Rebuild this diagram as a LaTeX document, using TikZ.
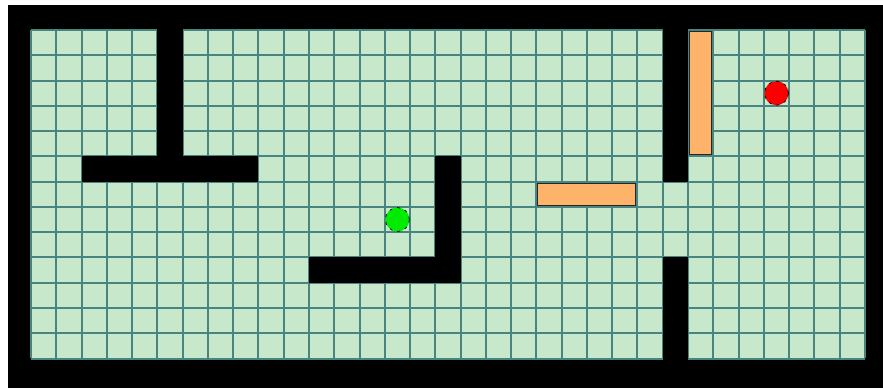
\documentclass[tikz,border=0pt]{standalone}
\definecolor{gridfill}{RGB}{199,232,203}
\definecolor{gridline}{RGB}{72,132,128}
\definecolor{boxorange}{RGB}{253,180,106}
\definecolor{startgreen}{RGB}{0,235,0}
\definecolor{goalred}{RGB}{250,0,0}
\newcommand{\cs}{25.27}
\newcommand{\wallbox}[4]{\fill[black] ({31+#1*\cs},{30+#2*\cs}) rectangle ({31+#3*\cs},{30+#4*\cs});}
\newcommand{\obstacle}[4]{\draw[obstaclebox] ({31+#1*\cs+1.5},{30+#2*\cs+1.5}) rectangle ({31+#3*\cs-1.5},{30+#4*\cs-1.5});}
\tikzset{
  gridstroke/.style={draw=gridline, line width=2pt},
  obstaclebox/.style={fill=boxorange, draw=black!85, line width=1pt},
  agent/.style={circle, inner sep=0pt, minimum size=24pt, draw=black, line width=0.7pt, dash pattern=on 3pt off 5pt}
}
\begin{document}
\begin{tikzpicture}[x=1pt,y=-1pt]
\useasboundingbox (0,0) rectangle (883,388);
\fill[white] (0,0) rectangle (883,388);
\fill[black] (8,5) rectangle (883,388);
\fill[gridfill] (31,30) rectangle (865,358);
\foreach \i in {0,...,33} \draw[gridstroke] ({31+\i*\cs},30) -- ({31+\i*\cs},358);
\foreach \j in {0,...,13} \draw[gridstroke] (31,{30+\j*\cs}) -- (865,{30+\j*\cs});
% walls
\wallbox{5}{-0.5}{6}{5}
\wallbox{2}{5}{9}{6}
\wallbox{16}{5}{17}{10}
\wallbox{11}{9}{17}{10}
\wallbox{25}{-0.5}{26}{6}
\wallbox{25}{9}{26}{13.5}
% obstacles
\obstacle{26}{0}{27}{5}
\obstacle{20}{6}{24}{7}
% agents
\node[agent, fill=startgreen] (start) at ({31+14.5*\cs},{30+7.5*\cs}) {};
\node[agent, fill=goalred] (goal) at ({31+29.5*\cs},{30+2.5*\cs}) {};
\end{tikzpicture}
\end{document}
